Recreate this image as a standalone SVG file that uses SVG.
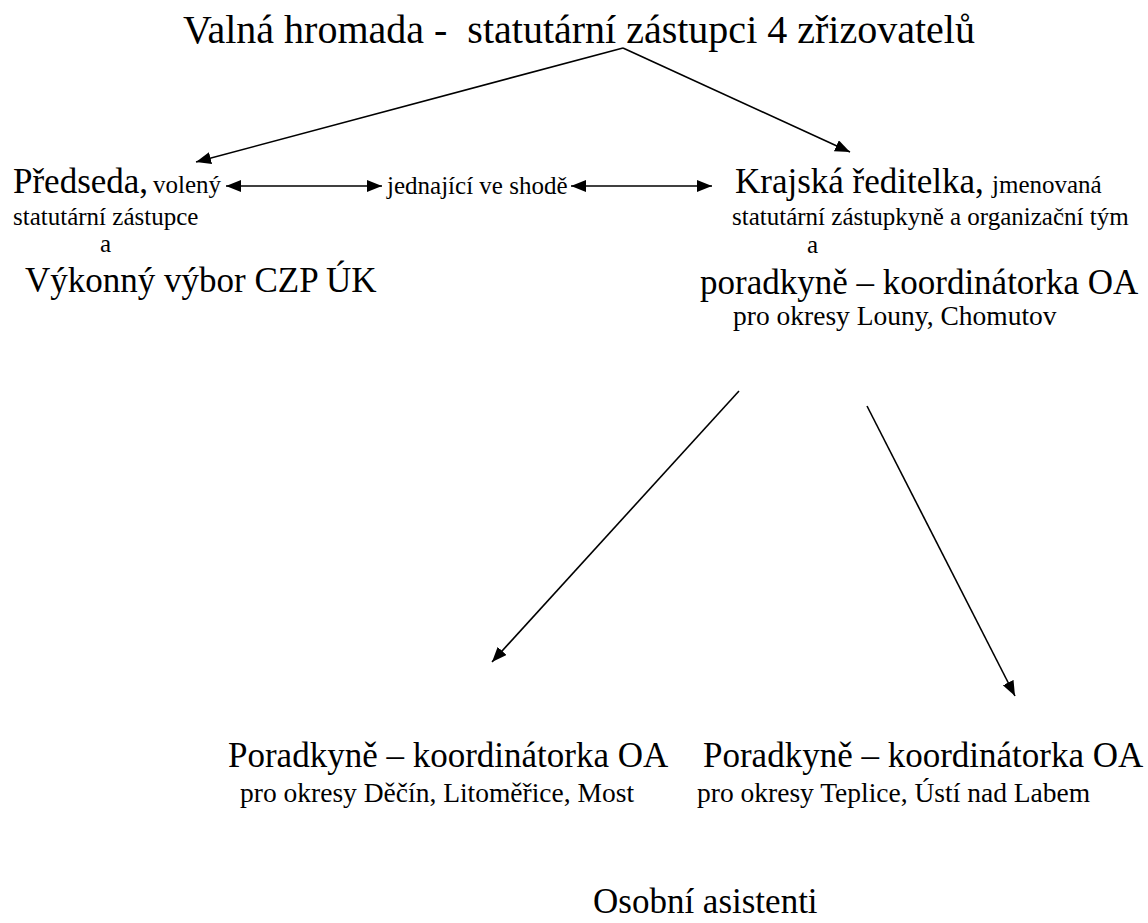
<svg xmlns="http://www.w3.org/2000/svg" width="1148" height="923" viewBox="0 0 1148 923">
<style>
text{font-family:"Liberation Serif","Times New Roman",serif;fill:#000;white-space:pre}
.t{font-size:40px}
.l{font-size:35px}
.s{font-size:25px}
.m{font-size:27.5px}
.c{stroke:#000;stroke-width:1.6;fill:none}
</style>
<defs>
<marker id="ah" markerUnits="userSpaceOnUse" markerWidth="16" markerHeight="13" refX="15" refY="6" orient="auto-start-reverse">
<path d="M0,0 L15,6 L0,12 z" fill="#000"/>
</marker>
</defs>
<rect width="1148" height="923" fill="#fff"/>
<g id="valna-hromada">
<text class="t" x="183" y="43">Valná hromada -  statutární zástupci 4 zřizovatelů</text>
</g>
<g id="predseda">
<text class="l" x="13" y="193">Předseda,</text>
<text class="s" x="153" y="193">volený</text>
<text class="s" x="13" y="225">statutární zástupce</text>
<text class="s" x="100" y="252">a</text>
<text class="l" x="25" y="292">Výkonný výbor CZP ÚK</text>
</g>
<g id="jednajici">
<text class="s" x="387" y="194">jednající ve shodě</text>
</g>
<g id="krajska-reditelka">
<text class="l" x="735" y="193">Krajská ředitelka,</text>
<text class="s" x="992" y="193">jmenovaná</text>
<text class="s" x="732" y="225">statutární zástupkyně a organizační tým</text>
<text class="s" x="807" y="253">a</text>
<text class="l" x="700" y="294">poradkyně – koordinátorka OA</text>
<text class="m" x="733" y="325">pro okresy Louny, Chomutov</text>
</g>
<g id="poradkyne-decin">
<text class="l" x="228" y="767">Poradkyně – koordinátorka OA</text>
<text class="m" x="240" y="802">pro okresy Děčín, Litoměřice, Most</text>
</g>
<g id="poradkyne-teplice">
<text class="l" x="703" y="767">Poradkyně – koordinátorka OA</text>
<text class="m" x="697" y="802">pro okresy Teplice, Ústí nad Labem</text>
</g>
<g id="osobni-asistenti">
<text class="l" x="593" y="913">Osobní asistenti</text>
</g>
<g id="connectors">
<line class="c" x1="623" y1="48" x2="196" y2="162" marker-end="url(#ah)"/>
<line class="c" x1="623" y1="48" x2="850" y2="152" marker-end="url(#ah)"/>
<line class="c" x1="226" y1="186" x2="382" y2="186" marker-start="url(#ah)" marker-end="url(#ah)"/>
<line class="c" x1="571" y1="186" x2="712" y2="186" marker-start="url(#ah)" marker-end="url(#ah)"/>
<line class="c" x1="739" y1="391" x2="492" y2="662" marker-end="url(#ah)"/>
<line class="c" x1="867" y1="406" x2="1015" y2="696" marker-end="url(#ah)"/>
</g>
</svg>
